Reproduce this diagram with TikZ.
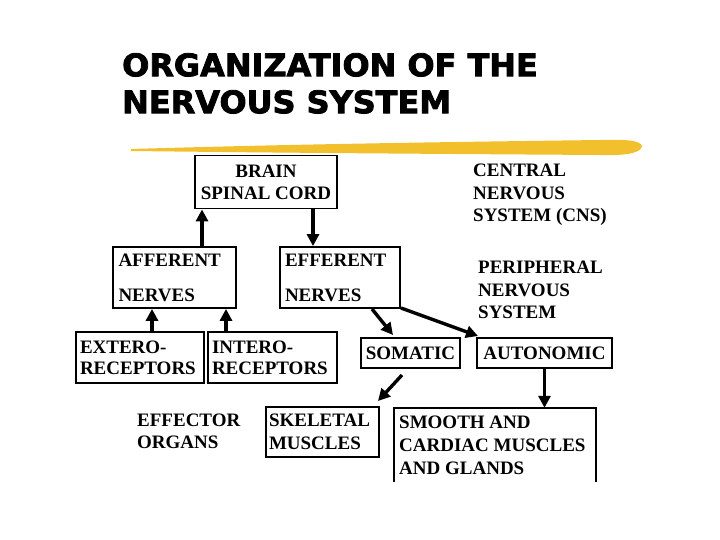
\documentclass[tikz,border=0pt]{standalone}
\usepackage{fontspec}
\setmainfont{Liberation Serif}
\newfontfamily\titlefont[FakeBold=2.5]{DejaVu Sans}
\usetikzlibrary{arrows.meta}
\definecolor{brush}{HTML}{F2C02C}
\tikzset{
  box/.style={draw, line width=1.8pt, inner sep=0pt, font=\bfseries\fontsize{19}{22}\selectfont},
  lbl/.style={inner sep=0pt, anchor=west, align=left, font=\bfseries\fontsize{19}{22.5}\selectfont},
  arr/.style={line width=3.4pt, -{Triangle[length=12pt,width=12pt]}},
}
\begin{document}
\begin{tikzpicture}[x=1pt,y=-1pt]
\useasboundingbox (0,0) rectangle (720,540);
% title
\node[anchor=north west, inner sep=0pt, align=left, xscale=1.03, font=\titlefont\bfseries\fontsize{31}{37}\selectfont] (title) at (122,53) {ORGANIZATION OF THE\\NERVOUS SYSTEM};
% brush stroke
\fill[brush] (131,149) .. controls (300,144) and (450,142) .. (600,140) .. controls (630,139) and (640,141) .. (642,146)
  .. controls (641,152) and (630,156) .. (600,155) .. controls (450,154) and (300,153) .. (131,151) -- cycle;
% boxes
\node[box, minimum width=142pt, minimum height=53pt, align=center] (brain) at (266,182) {BRAIN\\SPINAL CORD};
\node[box, minimum width=123pt, minimum height=61pt, text width=112pt, align=left, font=\bfseries\fontsize{19}{35}\selectfont] (aff) at (174.5,277.5) {AFFERENT\\NERVES};
\node[box, minimum width=120pt, minimum height=61pt, text width=110pt, align=left, font=\bfseries\fontsize{19}{35}\selectfont] (eff) at (340,277.5) {EFFERENT\\NERVES};
\node[box, minimum width=128pt, minimum height=51pt, text width=120pt, align=left, font=\bfseries\fontsize{19}{21}\selectfont] (ext) at (140,357.5) {EXTERO-\\RECEPTORS};
\node[box, minimum width=129pt, minimum height=51pt, text width=121pt, align=left, font=\bfseries\fontsize{19}{21}\selectfont] (int) at (272.5,357.5) {INTERO-\\RECEPTORS};
\node[box, minimum width=99pt, minimum height=30pt, align=center] (som) at (410.5,353) {SOMATIC};
\node[box, minimum width=135pt, minimum height=30pt, align=center] (aut) at (544.5,353) {AUTONOMIC};
\node[box, minimum width=113pt, minimum height=50pt, text width=107pt, align=left, font=\bfseries\fontsize{19}{23}\selectfont] (skel) at (322.5,432) {SKELETAL\\MUSCLES};
\node[inner sep=0pt, minimum width=202pt, minimum height=74pt] (smooth) at (495,445) {};
\draw[line width=1.8pt] (smooth.south west) -- (smooth.north west) -- (smooth.north east) -- (smooth.south east);
\node[lbl, font=\bfseries\fontsize{19}{23}\selectfont] (smtxt) at (399,445) {SMOOTH AND\\CARDIAC MUSCLES\\AND GLANDS};
% free labels
\node[lbl] (eo) at (137,431.5) {EFFECTOR\\ORGANS};
\node[lbl] (cns) at (473,195) {CENTRAL\\NERVOUS\\SYSTEM (CNS)};
\node[lbl] (pns) at (478,290) {PERIPHERAL\\NERVOUS\\SYSTEM};
% arrows
\draw[arr] (aff.north -| 202,0) -- (brain.south -| 202,0);
\draw[arr] (brain.south -| 313,0) -- (eff.north -| 313,0);
\draw[arr] (ext.north -| 152,0) -- (aff.south -| 152,0);
\draw[arr] (int.north -| 226,0) -- (aff.south -| 226,0);
\coordinate (e1) at (372,309);
\coordinate (s1) at (393,335);
\draw[arr] (e1) -- (s1);
\coordinate (e2) at (401,308);
\coordinate (a1) at (478,336);
\draw[arr] (e2) -- (a1);
\coordinate (s2) at (402,375);
\coordinate (k1) at (378,401);
\draw[arr] (s2) -- (k1);
\draw[arr] (aut.south) -- (smooth.north -| aut.south);
\end{tikzpicture}
\end{document}
